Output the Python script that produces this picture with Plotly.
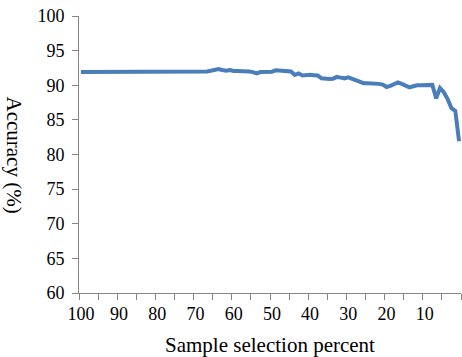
import plotly.graph_objects as go

# Sample selection percent (categories, shown from 100 down to 1)
percent = list(range(100, 0, -1))

# Accuracy (%), in the same order as `percent`
accuracy = (
    [91.9] * 18 +                                  # 100..83
    [92.0] * 16 +                                  # 82..67
    [92.1, 92.2, 92.35, 92.2, 92.1, 92.2,          # 66..61
     92.05, 92.05, 92.05, 92.05, 92.0, 91.9,       # 60..55
     91.7, 91.9, 91.95, 91.95, 91.95,              # 54..50
     92.15, 92.1, 92.1, 92.1, 92.0,                # 49..45
     91.5, 91.7, 91.4, 91.5, 91.5, 91.45, 91.4,    # 44..38
     91.0, 90.9, 90.9, 90.95, 91.2, 91.1, 91.0,    # 37..31
     91.15, 90.9, 90.7, 90.45, 90.3, 90.3, 90.3,   # 30..24
     90.3, 90.2, 90.1, 89.75, 89.9, 90.1, 90.4,    # 23..17
     90.2, 89.9, 89.7, 89.85, 90.0, 90.0, 90.0,    # 16..10
     90.0, 90.05, 88.1, 89.6, 89.0, 88.0,          # 9..4
     86.7, 86.3, 81.9]                             # 3..1
)

y_ticks = [60, 65, 70, 75, 80, 85, 90, 95, 100]
x_label_vals = [100, 90, 80, 70, 60, 50, 40, 30, 20, 10]
x_tick_marks = [v + 0.5 for v in range(100, -1, -5)]

AXIS = "#868686"
FONT = "Liberation Serif, Times New Roman, serif"

fig = go.Figure(go.Scatter(
    x=percent, y=accuracy, mode="lines",
    line=dict(color="#4A7EBB", width=4),
    hoverinfo="skip",
))

fig.update_layout(
    width=462, height=357,
    margin=dict(l=79, r=1, t=16, b=64),
    paper_bgcolor="white", plot_bgcolor="white",
    showlegend=False,
    font=dict(family=FONT, size=18, color="black"),
    xaxis=dict(
        range=[100.5, 0.5],
        tickmode="array", tickvals=x_label_vals,
        ticks="", showgrid=False, zeroline=False,
        showline=True, linecolor=AXIS, linewidth=1,
        tickfont=dict(family=FONT, size=18),
        ticklabelstandoff=4,
        minor=dict(tickmode="array", tickvals=x_tick_marks, ticks="outside",
                   ticklen=6, tickcolor=AXIS, tickwidth=1, showgrid=False),
    ),
    yaxis=dict(
        range=[60, 100],
        tickmode="array", tickvals=y_ticks,
        ticks="outside", ticklen=6, tickcolor=AXIS, tickwidth=1,
        showgrid=False, zeroline=False,
        showline=True, linecolor=AXIS, linewidth=1,
        tickfont=dict(family=FONT, size=18),
        ticklabelstandoff=4,
    ),
    annotations=[
        dict(text="Sample selection percent", xref="paper", yref="paper",
             x=0.5, y=-52 / 277, xanchor="center", yanchor="middle",
             showarrow=False, borderpad=0,
             font=dict(family=FONT, size=21)),
        dict(text="Accuracy (%)", xref="paper", yref="paper",
             x=-65 / 382, y=0.5, xanchor="center", yanchor="middle",
             textangle=90, showarrow=False, borderpad=0,
             font=dict(family=FONT, size=21)),
    ],
)

fig.write_html(
    "out.html",
    config={"displayModeBar": False, "staticPlot": True},
    post_script="document.body.style.margin='0';document.body.style.overflow='hidden';",
)
